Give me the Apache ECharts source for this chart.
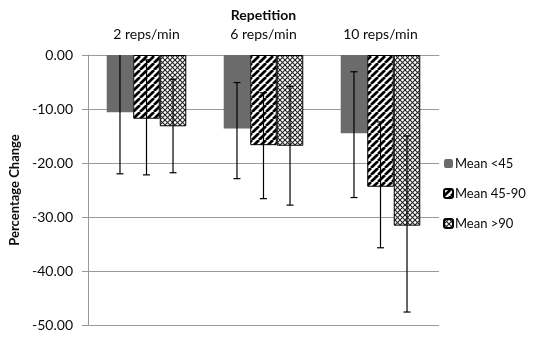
<!DOCTYPE html>
<html><head><meta charset="utf-8">
<script src="https://cdn.jsdelivr.net/npm/echarts@6/dist/echarts.min.js"></script>
<style>html,body{margin:0;padding:0;background:#fff}#c{width:545px;height:337px}</style>
</head><body><div id="c"></div>
<script>
const categories = ['2 reps/min', '6 reps/min', '10 reps/min'];
const seriesNames = ['Mean <45', 'Mean 45-90', 'Mean >90'];
const meanLow = [-10.6, -13.6, -14.5];
const meanMid = [-11.8, -16.7, -24.4];
const meanHigh = [-13.2, -16.8, -31.6];
// error bar ends [upper, lower]
const errLow = [[0.7, -22.0], [-5.1, -22.9], [-3.1, -26.4]];
const errMid = [[-0.9, -22.2], [-7.0, -26.6], [-12.4, -35.7]];
const errHigh = [[-4.5, -21.8], [-5.8, -27.8], [-15.0, -47.6]];
const yTicks = { min: -50, max: 0, interval: 10 };

function hatchPattern() {
  const s = 7, c = document.createElement('canvas');
  c.width = s; c.height = s;
  const g = c.getContext('2d');
  g.fillStyle = '#fff'; g.fillRect(0, 0, s, s);
  g.strokeStyle = '#000'; g.lineWidth = 2.7;
  for (let k = -1; k <= 1; k++) {
    g.beginPath(); g.moveTo(k * s, s); g.lineTo(k * s + s, 0); g.stroke();
  }
  return c;
}
function crossPattern() {
  const s = 5, c = document.createElement('canvas');
  c.width = s; c.height = s;
  const g = c.getContext('2d');
  g.fillStyle = '#fff'; g.fillRect(0, 0, s, s);
  g.strokeStyle = '#222'; g.lineWidth = 1.1;
  for (let k = -1; k <= 1; k++) {
    g.beginPath(); g.moveTo(k * s, s); g.lineTo(k * s + s, 0); g.stroke();
    g.beginPath(); g.moveTo(k * s, 0); g.lineTo(k * s + s, s); g.stroke();
  }
  return c;
}

const errData = [];
[errLow, errMid, errHigh].forEach((arr, si) => {
  arr.forEach((e, ci) => errData.push([ci, si, e[0], e[1]]));
});

const catGap = 0.32;
const txt = '#0a0a0a';
const chart = echarts.init(document.getElementById('c'));
chart.setOption({
  animation: false,
  textStyle: { fontFamily: 'Lato, "Liberation Sans", sans-serif' },
  grid: { left: 88, right: 106, top: 55, bottom: 12, containLabel: false },
  legend: {
    orient: 'vertical', left: 443, top: 157, padding: 0, itemWidth: 9, itemHeight: 9,
    itemGap: 17, data: seriesNames,
    textStyle: { fontSize: 13, color: txt, padding: [0, 0, 0, -3] }
  },
  xAxis: {
    type: 'category', position: 'top', data: categories,
    name: 'Repetition', nameLocation: 'middle', nameGap: 33,
    nameTextStyle: { fontWeight: 'bold', fontSize: 14, color: txt },
    axisLine: { lineStyle: { color: '#9a9a9a', width: 1 } },
    axisTick: { inside: true, length: 4, lineStyle: { color: '#9a9a9a' } },
    axisLabel: { fontSize: 14, color: txt, margin: 14 }
  },
  yAxis: {
    type: 'value', min: yTicks.min, max: yTicks.max, interval: yTicks.interval,
    name: 'Percentage Change', nameLocation: 'middle', nameGap: 58,
    nameTextStyle: { fontWeight: 'bold', fontSize: 13, color: txt },
    axisLine: { show: true, lineStyle: { color: '#9a9a9a' } },
    axisTick: { show: true, length: 6, lineStyle: { color: '#9a9a9a' } },
    axisLabel: { fontSize: 14, color: txt, margin: 15, formatter: v => v.toFixed(2) },
    splitLine: { lineStyle: { color: '#9a9a9a', width: 1 } }
  },
  series: [
    { name: seriesNames[0], type: 'bar', data: meanLow, barGap: '0%', barCategoryGap: (catGap * 100) + '%',
      itemStyle: { color: '#6b6b6b' } },
    { name: seriesNames[1], type: 'bar', data: meanMid, barGap: '0%',
      itemStyle: { color: { image: hatchPattern(), repeat: 'repeat' }, borderColor: '#000', borderWidth: 1 } },
    { name: seriesNames[2], type: 'bar', data: meanHigh, barGap: '0%',
      itemStyle: { color: { image: crossPattern(), repeat: 'repeat' }, borderColor: '#000', borderWidth: 1 } },
    { type: 'custom', silent: true, clip: true, z: 10, data: errData,
      encode: { x: 0, y: [2, 3] },
      renderItem: function (params, api) {
        const ci = api.value(0), si = api.value(1);
        const catW = api.size([1, 0])[0];
        const barW = catW * (1 - catGap) / 3;
        const top = api.coord([ci, api.value(2)]);
        const bot = api.coord([ci, api.value(3)]);
        const x = top[0] + (si - 1) * barW;
        const cap = 3.5;
        const st = { stroke: '#000', lineWidth: 1.2 };
        return { type: 'group', children: [
          { type: 'line', shape: { x1: x, y1: top[1], x2: x, y2: bot[1] }, style: st },
          { type: 'line', shape: { x1: x - cap, y1: top[1], x2: x + cap, y2: top[1] }, style: st },
          { type: 'line', shape: { x1: x - cap, y1: bot[1], x2: x + cap, y2: bot[1] }, style: st }
        ]};
      }
    }
  ]
});
</script></body></html>
